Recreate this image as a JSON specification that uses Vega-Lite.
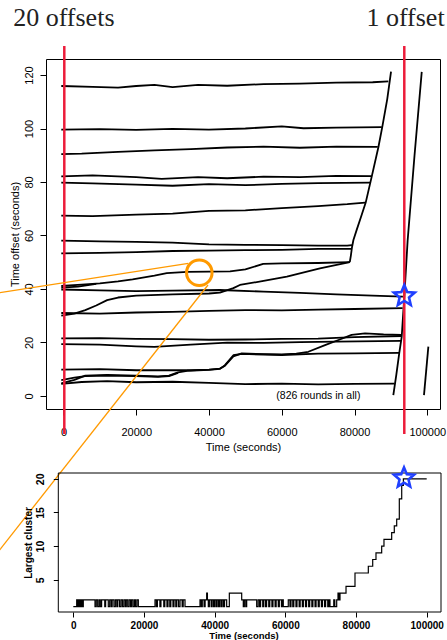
{
  "$schema": "https://vega.github.io/schema/vega-lite/v6.json",
  "padding": {"left": 46, "top": 59, "right": 401, "bottom": 581},
  "autosize": {"type": "none"},
  "background": "white",
  "bounds": "flush",
  "spacing": 64,
  "datasets": {
    "offsets": [
      {"s":"A","t":-600,"v":115.9},{"s":"A","t":8000,"v":115.6},{"s":"A","t":15000,"v":115.3},{"s":"A","t":20000,"v":115.9},{"s":"A","t":25000,"v":116.3},{"s":"A","t":30000,"v":115.5},{"s":"A","t":37000,"v":116.3},{"s":"A","t":45000,"v":116.0},{"s":"A","t":55000,"v":116.6},{"s":"A","t":65000,"v":116.8},{"s":"A","t":75000,"v":117.2},{"s":"A","t":85000,"v":117.3},{"s":"A","t":89300,"v":117.6},
      {"s":"B","t":-600,"v":99.6},{"s":"B","t":10000,"v":99.8},{"s":"B","t":20000,"v":99.5},{"s":"B","t":30000,"v":99.9},{"s":"B","t":40000,"v":99.6},{"s":"B","t":50000,"v":100.0},{"s":"B","t":60000,"v":100.8},{"s":"B","t":66000,"v":100.1},{"s":"B","t":75000,"v":100.3},{"s":"B","t":87500,"v":100.5},
      {"s":"C","t":-600,"v":90.4},{"s":"C","t":5000,"v":90.6},{"s":"C","t":15000,"v":91.3},{"s":"C","t":25000,"v":91.8},{"s":"C","t":35000,"v":92.3},{"s":"C","t":45000,"v":92.9},{"s":"C","t":55000,"v":93.2},{"s":"C","t":65000,"v":92.8},{"s":"C","t":75000,"v":93.2},{"s":"C","t":86400,"v":93.1},
      {"s":"D","t":-600,"v":82.1},{"s":"D","t":8000,"v":82.5},{"s":"D","t":20000,"v":81.8},{"s":"D","t":27000,"v":81.2},{"s":"D","t":37000,"v":81.8},{"s":"D","t":45000,"v":81.4},{"s":"D","t":55000,"v":82.0},{"s":"D","t":65000,"v":81.8},{"s":"D","t":75000,"v":82.3},{"s":"D","t":84650,"v":82.2},
      {"s":"E","t":-600,"v":79.8},{"s":"E","t":8000,"v":79.5},{"s":"E","t":20000,"v":79.0},{"s":"E","t":30000,"v":78.6},{"s":"E","t":40000,"v":79.2},{"s":"E","t":50000,"v":78.8},{"s":"E","t":60000,"v":79.3},{"s":"E","t":70000,"v":79.6},{"s":"E","t":84300,"v":79.8},
      {"s":"F","t":-600,"v":67.4},{"s":"F","t":8000,"v":67.2},{"s":"F","t":20000,"v":67.8},{"s":"F","t":30000,"v":68.2},{"s":"F","t":40000,"v":69.2},{"s":"F","t":50000,"v":69.4},{"s":"F","t":60000,"v":70.2},{"s":"F","t":70000,"v":71.0},{"s":"F","t":78000,"v":71.7},{"s":"F","t":82900,"v":72.3},
      {"s":"G","t":-600,"v":58.1},{"s":"G","t":10000,"v":57.8},{"s":"G","t":20000,"v":57.6},{"s":"G","t":30000,"v":57.3},{"s":"G","t":40000,"v":56.7},{"s":"G","t":50000,"v":56.5},{"s":"G","t":60000,"v":56.4},{"s":"G","t":70000,"v":56.2},{"s":"G","t":78000,"v":56.2},{"s":"G","t":79300,"v":56.4},
      {"s":"H","t":-600,"v":53.3},{"s":"H","t":10000,"v":53.5},{"s":"H","t":20000,"v":53.8},{"s":"H","t":30000,"v":54.2},{"s":"H","t":40000,"v":54.3},{"s":"H","t":50000,"v":54.5},{"s":"H","t":60000,"v":54.6},{"s":"H","t":70000,"v":55.0},{"s":"H","t":78000,"v":55.0},{"s":"H","t":79100,"v":55.0},
      {"s":"Z","t":78700,"v":50.0},{"s":"Z","t":79000,"v":52.5},{"s":"Z","t":79300,"v":55.5},{"s":"Z","t":79700,"v":58.3},{"s":"Z","t":80600,"v":62.1},{"s":"Z","t":81800,"v":67.0},{"s":"Z","t":83080,"v":72.3},{"s":"Z","t":84730,"v":82.0},{"s":"Z","t":86560,"v":93.0},{"s":"Z","t":87650,"v":100.7},{"s":"Z","t":89000,"v":111.0},{"s":"Z","t":90040,"v":121.3},
      {"s":"I","t":-600,"v":41.1},{"s":"I","t":5000,"v":41.6},{"s":"I","t":10000,"v":42.1},{"s":"I","t":15000,"v":42.8},{"s":"I","t":19000,"v":43.6},{"s":"I","t":25000,"v":45.0},{"s":"I","t":28400,"v":45.9},{"s":"I","t":34000,"v":46.4},{"s":"I","t":40000,"v":46.5},{"s":"I","t":45800,"v":46.6},{"s":"I","t":50000,"v":47.3},{"s":"I","t":54900,"v":49.4},{"s":"I","t":60000,"v":49.6},{"s":"I","t":70000,"v":49.7},{"s":"I","t":78700,"v":50.0},
      {"s":"K2","t":-600,"v":40.5},{"s":"K2","t":4000,"v":40.9},{"s":"K2","t":9000,"v":41.9},
      {"s":"J","t":-600,"v":30.0},{"s":"J","t":3000,"v":30.8},{"s":"J","t":6000,"v":32.1},{"s":"J","t":9000,"v":33.8},{"s":"J","t":12000,"v":35.8},{"s":"J","t":15000,"v":36.8},{"s":"J","t":20000,"v":37.5},{"s":"J","t":30000,"v":38.0},{"s":"J","t":40000,"v":38.3},{"s":"J","t":43000,"v":38.6},{"s":"J","t":46700,"v":40.3},{"s":"J","t":48500,"v":41.5},{"s":"J","t":55000,"v":43.0},{"s":"J","t":61400,"v":44.6},{"s":"J","t":70500,"v":47.7},{"s":"J","t":78700,"v":50.0},
      {"s":"K","t":-600,"v":39.8},{"s":"K","t":10000,"v":39.5},{"s":"K","t":20000,"v":39.2},{"s":"K","t":30000,"v":39.4},{"s":"K","t":43000,"v":39.6},{"s":"K","t":55000,"v":39.0},{"s":"K","t":65000,"v":38.5},{"s":"K","t":75000,"v":38.0},{"s":"K","t":85000,"v":37.5},{"s":"K","t":93300,"v":37.1},
      {"s":"L","t":-600,"v":31.0},{"s":"L","t":10000,"v":30.8},{"s":"L","t":20000,"v":31.2},{"s":"L","t":30000,"v":31.4},{"s":"L","t":40000,"v":31.8},{"s":"L","t":50000,"v":32.1},{"s":"L","t":60000,"v":32.0},{"s":"L","t":70000,"v":32.3},{"s":"L","t":80000,"v":32.5},{"s":"L","t":93200,"v":32.8},
      {"s":"M","t":-600,"v":21.5},{"s":"M","t":10000,"v":21.6},{"s":"M","t":20000,"v":21.3},{"s":"M","t":30000,"v":21.2},{"s":"M","t":40000,"v":21.0},{"s":"M","t":50000,"v":21.1},{"s":"M","t":60000,"v":21.3},{"s":"M","t":70000,"v":21.4},{"s":"M","t":80000,"v":22.0},{"s":"M","t":92900,"v":22.4},
      {"s":"N","t":-600,"v":19.4},{"s":"N","t":10000,"v":19.2},{"s":"N","t":20000,"v":18.5},{"s":"N","t":25000,"v":18.3},{"s":"N","t":35000,"v":19.2},{"s":"N","t":45000,"v":19.9},{"s":"N","t":55000,"v":19.8},{"s":"N","t":65000,"v":20.1},{"s":"N","t":75000,"v":20.3},{"s":"N","t":92800,"v":20.6},
      {"s":"P","t":-600,"v":9.8},{"s":"P","t":10000,"v":10.0},{"s":"P","t":20000,"v":9.6},{"s":"P","t":30000,"v":9.6},{"s":"P","t":35000,"v":9.6},{"s":"P","t":40000,"v":9.8},{"s":"P","t":43000,"v":10.2},{"s":"P","t":44400,"v":11.3},{"s":"P","t":46700,"v":14.8},{"s":"P","t":49000,"v":15.9},{"s":"P","t":55000,"v":15.6},{"s":"P","t":60000,"v":15.5},{"s":"P","t":64000,"v":15.8},{"s":"P","t":67300,"v":16.5},{"s":"P","t":71900,"v":19.0},{"s":"P","t":75600,"v":20.9},{"s":"P","t":79200,"v":22.8},{"s":"P","t":82900,"v":23.4},{"s":"P","t":88000,"v":23.0},{"s":"P","t":92900,"v":22.8},
      {"s":"Q","t":-600,"v":4.7},{"s":"Q","t":3000,"v":6.0},{"s":"Q","t":6000,"v":7.6},{"s":"Q","t":12000,"v":7.9},{"s":"Q","t":20000,"v":7.6},{"s":"Q","t":26000,"v":7.3},{"s":"Q","t":29000,"v":7.6},{"s":"Q","t":31500,"v":8.8},{"s":"Q","t":34000,"v":9.4},{"s":"Q","t":40000,"v":9.7},{"s":"Q","t":43000,"v":10.1},{"s":"Q","t":44400,"v":11.5},{"s":"Q","t":46700,"v":15.2},{"s":"Q","t":49000,"v":15.7},{"s":"Q","t":60000,"v":15.3},{"s":"Q","t":70000,"v":15.8},{"s":"Q","t":80000,"v":15.9},{"s":"Q","t":92300,"v":16.1},
      {"s":"Q2","t":-600,"v":5.9},{"s":"Q2","t":3000,"v":6.8},{"s":"Q2","t":6000,"v":7.4},{"s":"Q2","t":12000,"v":7.6},{"s":"Q2","t":20000,"v":7.4},{"s":"Q2","t":26000,"v":7.1},{"s":"Q2","t":29000,"v":7.4},{"s":"Q2","t":31500,"v":8.6},
      {"s":"R","t":-600,"v":4.5},{"s":"R","t":5000,"v":5.2},{"s":"R","t":12000,"v":5.5},{"s":"R","t":20000,"v":5.1},{"s":"R","t":30000,"v":5.3},{"s":"R","t":40000,"v":4.9},{"s":"R","t":50000,"v":4.4},{"s":"R","t":60000,"v":4.6},{"s":"R","t":70000,"v":4.3},{"s":"R","t":80000,"v":4.5},{"s":"R","t":91000,"v":4.6},
      {"s":"W","t":90670,"v":0.3},{"s":"W","t":91500,"v":8.0},{"s":"W","t":92300,"v":16.0},{"s":"W","t":92980,"v":22.2},{"s":"W","t":93480,"v":32.8},{"s":"W","t":93700,"v":37.4},{"s":"W","t":94600,"v":58.0},{"s":"W","t":96500,"v":90.0},{"s":"W","t":98480,"v":121.2},
      {"s":"W2","t":99100,"v":0.3},{"s":"W2","t":100300,"v":18.4}
    ],
    "orange": [
      {"g":"up","t":-17994,"v":38.52},{"g":"up","t":34320,"v":49.6},
      {"g":"down","t":-17994,"v":-58.38},{"g":"down","t":39730,"v":41.48}
    ],
    "cluster": [
      {"t":0,"n":1},{"t":960,"n":2},{"t":1300,"n":1},{"t":1600,"n":2},{"t":1900,"n":1},{"t":2200,"n":2},{"t":2500,"n":1},{"t":2830,"n":2},
      {"t":6140,"n":1},{"t":6500,"n":2},{"t":6900,"n":1},{"t":7300,"n":2},{"t":7650,"n":1},{"t":8010,"n":2},
      {"t":8900,"n":1},{"t":9150,"n":2},
      {"t":9900,"n":1},{"t":10300,"n":2},{"t":10700,"n":1},{"t":11000,"n":2},{"t":11500,"n":1},{"t":11900,"n":2},{"t":12300,"n":1},{"t":12600,"n":2},{"t":13100,"n":1},{"t":13500,"n":2},{"t":13900,"n":1},{"t":14300,"n":2},{"t":14700,"n":1},{"t":15000,"n":2},{"t":15400,"n":1},{"t":15800,"n":2},{"t":16200,"n":1},{"t":16500,"n":2},{"t":16900,"n":1},{"t":17300,"n":2},{"t":17600,"n":1},{"t":18000,"n":2},{"t":18400,"n":1},
      {"t":23120,"n":2},{"t":23500,"n":1},{"t":23800,"n":2},{"t":24500,"n":1},{"t":24800,"n":2},{"t":25600,"n":1},{"t":25900,"n":2},{"t":26500,"n":1},{"t":26800,"n":2},{"t":27300,"n":1},{"t":27600,"n":2},{"t":28200,"n":1},{"t":28500,"n":2},{"t":29000,"n":1},{"t":29300,"n":2},{"t":29800,"n":1},{"t":30200,"n":2},{"t":30800,"n":1},{"t":31100,"n":2},{"t":31610,"n":1},
      {"t":35850,"n":2},{"t":36200,"n":1},{"t":36500,"n":2},{"t":37000,"n":1},{"t":37300,"n":2},{"t":37740,"n":3},{"t":37950,"n":2},{"t":38200,"n":1},{"t":38500,"n":2},{"t":39000,"n":1},{"t":39300,"n":2},{"t":39700,"n":1},{"t":40000,"n":2},{"t":40400,"n":1},{"t":40700,"n":2},{"t":41100,"n":1},{"t":41400,"n":2},{"t":41800,"n":1},{"t":42100,"n":2},{"t":42500,"n":1},{"t":42800,"n":2},{"t":43400,"n":1},
      {"t":44150,"n":3},{"t":47650,"n":2},{"t":48100,"n":1},{"t":48400,"n":2},{"t":48800,"n":1},{"t":49060,"n":2},
      {"t":51890,"n":1},{"t":52300,"n":2},{"t":52700,"n":1},{"t":53000,"n":2},{"t":53600,"n":1},{"t":53900,"n":2},{"t":54400,"n":1},{"t":54700,"n":2},{"t":55300,"n":1},{"t":55600,"n":2},{"t":56200,"n":1},{"t":56500,"n":2},{"t":57100,"n":1},{"t":57400,"n":2},{"t":58000,"n":1},{"t":58300,"n":2},{"t":58900,"n":1},{"t":59200,"n":2},{"t":59420,"n":1},
      {"t":60830,"n":2},{"t":61300,"n":1},{"t":61600,"n":2},{"t":62100,"n":1},{"t":62400,"n":2},{"t":63000,"n":1},{"t":63300,"n":2},{"t":63900,"n":1},{"t":64200,"n":2},{"t":64800,"n":1},{"t":65100,"n":2},{"t":65700,"n":1},{"t":66000,"n":2},{"t":66600,"n":1},{"t":66900,"n":2},{"t":67500,"n":1},{"t":67800,"n":2},{"t":68400,"n":1},{"t":68700,"n":2},{"t":69300,"n":1},{"t":69600,"n":2},{"t":70200,"n":1},{"t":70500,"n":2},{"t":71100,"n":1},{"t":71400,"n":2},{"t":72000,"n":1},{"t":72300,"n":2},{"t":72630,"n":1},
      {"t":73700,"n":2},{"t":74000,"n":1},
      {"t":74530,"n":2},{"t":74900,"n":3},{"t":75200,"n":2},{"t":75470,"n":3},
      {"t":77170,"n":4},{"t":79710,"n":6},{"t":83480,"n":7},{"t":84720,"n":8},{"t":85650,"n":9},{"t":87260,"n":10},{"t":87910,"n":11},{"t":90090,"n":12},{"t":90830,"n":13},{"t":91510,"n":14},{"t":92250,"n":17},{"t":92930,"n":19},{"t":93400,"n":20},{"t":100000,"n":20}
    ]
  },
  "vconcat": [
    {
      "width": 394,
      "height": 350,
      "layer": [
        {
          "data": {"name": "offsets"},
          "mark": {"type": "line", "color": "black", "strokeWidth": 1.8, "strokeJoin": "round"},
          "encoding": {
            "x": {"field": "t", "type": "quantitative", "scale": {"domain": [-4800, 103500], "nice": false, "zero": false},
              "axis": {"values": [0, 20000, 40000, 60000, 80000, 100000], "format": "d", "title": "Time (seconds)", "tickSize": 6, "labelFontSize": 11, "labelBaseline": "middle", "labelPadding": 17.5, "titleFontSize": 11, "titleFontWeight": "normal", "titlePadding": 4}},
            "y": {"field": "v", "type": "quantitative", "scale": {"domain": [-4.9, 126], "nice": false, "zero": false},
              "axis": {"values": [0, 20, 40, 60, 80, 100, 120], "title": "Time offset (seconds)", "tickSize": 6, "labelAngle": 270, "labelAlign": "center", "labelBaseline": "middle", "labelPadding": 11, "labelFontSize": 11, "titleFontSize": 11, "titleFontWeight": "normal", "titlePadding": 3}},
            "detail": {"field": "s", "type": "nominal"}
          }
        },
        {
          "data": {"values": [{"t": 230}, {"t": 93686}]},
          "mark": {"type": "rule", "color": "#ec1c3a", "strokeWidth": 2.5},
          "encoding": {
            "x": {"field": "t", "type": "quantitative", "scale": {"domain": [-4800, 103500], "nice": false, "zero": false}},
            "y": {"datum": 130.86, "type": "quantitative", "scale": {"domain": [-4.9, 126], "nice": false, "zero": false}},
            "y2": {"datum": -14.25}
          }
        },
        {
          "data": {"name": "orange"},
          "mark": {"type": "line", "color": "#ff9a00", "strokeWidth": 1.3},
          "encoding": {
            "x": {"field": "t", "type": "quantitative", "scale": {"domain": [-4800, 103500], "nice": false, "zero": false}},
            "y": {"field": "v", "type": "quantitative", "scale": {"domain": [-4.9, 126], "nice": false, "zero": false}},
            "detail": {"field": "g", "type": "nominal"}
          }
        },
        {
          "data": {"values": [{"t": 37340, "v": 46.08}]},
          "mark": {"type": "point", "shape": "circle", "size": 650, "filled": false, "color": "#ff9a00", "strokeWidth": 3, "opacity": 1},
          "encoding": {
            "x": {"field": "t", "type": "quantitative", "scale": {"domain": [-4800, 103500], "nice": false, "zero": false}},
            "y": {"field": "v", "type": "quantitative", "scale": {"domain": [-4.9, 126], "nice": false, "zero": false}}
          }
        },
        {
          "data": {"values": [{"t": 93690, "v": 37.36}]},
          "mark": {"type": "point", "shape": "M0,-1L0.2645,-0.364L0.951,-0.309L0.428,0.139L0.588,0.809L0,0.45L-0.588,0.809L-0.428,0.139L-0.951,-0.309L-0.2645,-0.364Z", "size": 484, "filled": false, "color": "#2040ff", "strokeWidth": 2.6, "opacity": 1},
          "encoding": {
            "x": {"field": "t", "type": "quantitative", "scale": {"domain": [-4800, 103500], "nice": false, "zero": false}},
            "y": {"field": "v", "type": "quantitative", "scale": {"domain": [-4.9, 126], "nice": false, "zero": false}}
          }
        },
        {
          "data": {"values": [{"label": "(826 rounds in all)"}]},
          "mark": {"type": "text", "font": "Liberation Sans", "fontSize": 10.5, "baseline": "middle", "align": "center", "color": "black"},
          "encoding": {
            "x": {"datum": 70060, "type": "quantitative", "scale": {"domain": [-4800, 103500], "nice": false, "zero": false}},
            "y": {"datum": 0.1, "type": "quantitative", "scale": {"domain": [-4.9, 126], "nice": false, "zero": false}},
            "text": {"field": "label"}
          }
        },
        {
          "data": {"values": [{"t": 100, "label": "20 offsets"}, {"t": 94016, "label": "1 offset"}]},
          "mark": {"type": "text", "font": "Liberation Serif", "fontSize": 26, "baseline": "alphabetic", "align": "center", "color": "#222222"},
          "encoding": {
            "x": {"field": "t", "type": "quantitative", "scale": {"domain": [-4800, 103500], "nice": false, "zero": false}},
            "y": {"datum": 138.34, "type": "quantitative", "scale": {"domain": [-4.9, 126], "nice": false, "zero": false}},
            "text": {"field": "label"}
          }
        }
      ]
    },
    {
      "width": 395,
      "height": 139,
      "view": {"stroke": null},
      "layer": [
        {
          "data": {"values": [{}]},
          "mark": {"type": "rect", "filled": false, "color": "black", "strokeWidth": 1},
          "encoding": {
            "x": {"datum": -4245, "type": "quantitative", "scale": {"domain": [-7725, 104046], "nice": false, "zero": false}},
            "x2": {"datum": 104046},
            "y": {"datum": 0.2, "type": "quantitative", "scale": {"domain": [0.2, 20.86], "nice": false, "zero": false}},
            "y2": {"datum": 20.86}
          }
        },
        {
          "data": {"name": "cluster"},
          "mark": {"type": "line", "interpolate": "step-after", "color": "black", "strokeWidth": 1.2},
          "encoding": {
            "x": {"field": "t", "type": "quantitative", "scale": {"domain": [-7725, 104046], "nice": false, "zero": false},
              "axis": {"values": [0, 20000, 40000, 60000, 80000, 100000], "format": "d", "title": "Time (seconds)", "tickSize": 5, "labelFontSize": 10, "labelFontWeight": "bold", "labelBaseline": "middle", "labelPadding": 8, "titleFontSize": 9.5, "titleFontWeight": "bold", "titlePadding": 0}},
            "y": {"field": "n", "type": "quantitative", "scale": {"domain": [0.2, 20.86], "nice": false, "zero": false},
              "axis": {"values": [5, 10, 15, 20], "title": "Largest cluster", "offset": -12.3, "tickSize": 5, "labelAngle": 270, "labelAlign": "center", "labelBaseline": "middle", "labelPadding": 12.7, "labelFontSize": 10.5, "labelFontWeight": "bold", "titleFontSize": 10, "titleFontWeight": "bold", "titlePadding": 2}}
          }
        },
        {
          "data": {"values": [{"t": 93580, "n": 20.12}]},
          "mark": {"type": "point", "shape": "M0,-1L0.2645,-0.364L0.951,-0.309L0.428,0.139L0.588,0.809L0,0.45L-0.588,0.809L-0.428,0.139L-0.951,-0.309L-0.2645,-0.364Z", "size": 440, "filled": false, "color": "#2040ff", "strokeWidth": 2.6, "opacity": 1},
          "encoding": {
            "x": {"field": "t", "type": "quantitative", "scale": {"domain": [-7725, 104046], "nice": false, "zero": false}},
            "y": {"field": "n", "type": "quantitative", "scale": {"domain": [0.2, 20.86], "nice": false, "zero": false}}
          }
        }
      ]
    }
  ],
  "config": {
    "font": "Liberation Sans",
    "view": {"stroke": "black", "strokeWidth": 1},
    "axis": {"domain": false, "grid": false, "tickColor": "black", "tickWidth": 1, "labelColor": "black", "titleColor": "black", "labelFont": "Liberation Sans", "titleFont": "Liberation Sans", "labelFlush": false, "labelOverlap": false}
  }
}
